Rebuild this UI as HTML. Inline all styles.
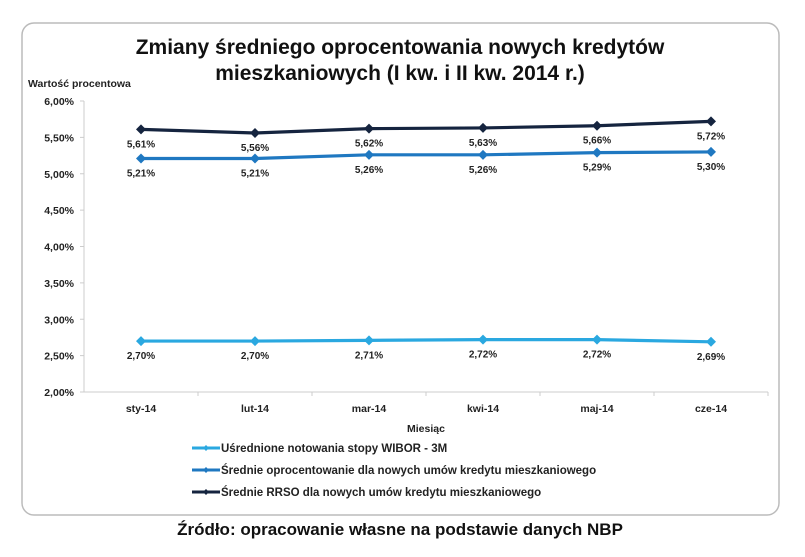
<!DOCTYPE html>
<html><head><meta charset="utf-8"><style>
body{margin:0;background:#fff;width:805px;height:552px;overflow:hidden;font-family:"Liberation Sans",sans-serif}
</style></head><body>
<svg width="805" height="552" xmlns="http://www.w3.org/2000/svg">
<rect x="22" y="23" width="757" height="492" rx="12" fill="#fff" stroke="#bbb" stroke-width="1.5"/>
<text x="400" y="54" text-anchor="middle" font-size="21" font-weight="bold" fill="#111">Zmiany średniego oprocentowania nowych kredytów</text>
<text x="400" y="80" text-anchor="middle" font-size="21" font-weight="bold" fill="#111">mieszkaniowych (I kw. i II kw. 2014 r.)</text>
<text x="28" y="87" font-size="10.5" font-weight="bold" fill="#222">Wartość procentowa</text>
<g id="axes"></g>
<g id="series"></g>
<text x="426" y="432" text-anchor="middle" font-size="10.5" font-weight="bold" fill="#222">Miesiąc</text>
<g id="legend"></g>
<text x="400" y="535" text-anchor="middle" font-size="17" font-weight="bold" fill="#111">Źródło: opracowanie własne na podstawie danych NBP</text>
</svg>
<script>
const categories=["sty-14","lut-14","mar-14","kwi-14","maj-14","cze-14"];
const wibor=[2.70,2.70,2.71,2.72,2.72,2.69];
const oproc=[5.21,5.21,5.26,5.26,5.29,5.30];
const rrso=[5.61,5.56,5.62,5.63,5.66,5.72];
const yTicks=[2.0,2.5,3.0,3.5,4.0,4.5,5.0,5.5,6.0];
const seriesNames=["Uśrednione notowania stopy WIBOR - 3M","Średnie oprocentowanie dla nowych umów kredytu mieszkaniowego","Średnie RRSO dla nowych umów kredytu mieszkaniowego"];
const NS="http://www.w3.org/2000/svg";
const L=84,R=768,T=101,B=392;
const x=i=>L+(R-L)/categories.length*(i+0.5);
const y=v=>B-(v-2)/(6-2)*(B-T);
function mk(tag,attrs,parent){const e=document.createElementNS(NS,tag);for(const k in attrs)e.setAttribute(k,attrs[k]);parent.appendChild(e);return e;}
const fmt=v=>v.toFixed(2).replace('.',',')+'%';
const ax=document.getElementById('axes');
let l=mk('line',{x1:L,y1:T,x2:L,y2:B,stroke:'#ccc'},ax);


l=mk('line',{x1:L,y1:B,x2:R,y2:B,stroke:'#ccc'},ax);


yTicks.forEach(v=>{
 const t=mk('text',{x:L-10,y:y(v)+4,'text-anchor':'end','font-size':'10.5','font-weight':'bold',fill:'#222'},ax);
 t.textContent=fmt(v);
 
 
 mk('line',{x1:L-4,y1:y(v),x2:L,y2:y(v),stroke:'#ccc'},ax);
});
categories.forEach((c,i)=>{
 const t=mk('text',{x:x(i),y:B+20,'text-anchor':'middle','font-size':'10.5','font-weight':'bold',fill:'#222'},ax);
 t.textContent=c;
 
 
 const tk=L+(R-L)/categories.length*(i+1);
 mk('line',{x1:tk,y1:B,x2:tk,y2:B+4,stroke:'#ccc'},ax);
});
const sg=document.getElementById('series');
const defs=[[wibor,'#2aa8e0','series-wibor'],[oproc,'#1f78c1','series-oprocentowanie'],[rrso,'#15243f','series-rrso']];
defs.forEach(([data,col,name])=>{
 const g=mk('g',{},sg);
 
 
 mk('polyline',{points:data.map((v,i)=>x(i)+','+y(v)).join(' '),fill:'none',stroke:col,'stroke-width':3.2},g);
 data.forEach((v,i)=>{
  const cx=x(i),cy=y(v);
  const p=mk('path',{d:`M${cx},${cy-5}L${cx+5},${cy}L${cx},${cy+5}L${cx-5},${cy}Z`,fill:col},g);
  
  
  const t=mk('text',{x:cx,y:cy+18,'text-anchor':'middle','font-size':'10','font-weight':'bold',fill:'#222'},g);
  t.textContent=fmt(v);
  
  
 });
});
const lg=document.getElementById('legend');
defs.forEach(([d,col],k)=>{
 const g=mk('g',{},lg);
 
 
 const yy=448+k*22;
 mk('line',{x1:192,y1:yy,x2:220,y2:yy,stroke:col,'stroke-width':3},g);
 mk('path',{d:`M206,${yy-3}L209,${yy}L206,${yy+3}L203,${yy}Z`,fill:col},g);
 const t=mk('text',{x:221,y:yy+4,'font-size':'11.5','font-weight':'bold',fill:'#222'},g);
 t.textContent=seriesNames[k];
});
</script>
</body></html>
